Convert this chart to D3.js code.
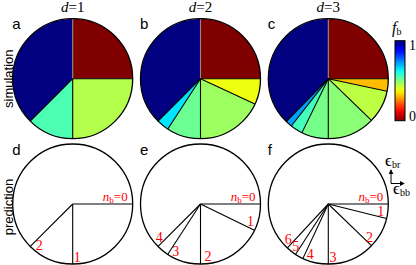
<!DOCTYPE html>
<html>
<head>
<meta charset="utf-8">
<script src="https://cdn.jsdelivr.net/npm/d3@7"></script>
<style>
  body { margin: 0; background: #fff; }
  text { fill: #000; }
  .serif { font-family: "Liberation Serif", "DejaVu Serif", serif; }
  .sans { font-family: "Liberation Sans", Arial, sans-serif; }
</style>
</head>
<body>
<div id="chart"></div>
<script>
// depths shown in the three columns
const depths = [1, 2, 3];

// simulation: wedge boundaries (degrees, clockwise from 12 o'clock) and f_b of each wedge
const simBounds1 = [0, 90, 180, 225, 360];
const simFb1 = [0, 0.45, 0.55, 1];
const simBounds2 = [0, 90, 115, 180, 213, 225, 360];
const simFb2 = [0, 0.39, 0.47, 0.52, 0.65, 1];
const simBounds3 = [0, 90, 102, 134, 180, 206, 218, 224.5, 360];
const simFb3 = [0, 0.31, 0.44, 0.49, 0.51, 0.56, 0.72, 1];

// prediction: boundary lines (degrees) for n_b = 0, 1, 2, ...
const predLines1 = [90, 180, 225];
const predLines2 = [90, 116, 180, 213, 225];
const predLines3 = [90, 104, 134, 180, 205, 213, 223];
// where each n_b label sits relative to its line (degrees)
const predShift1 = [0, -5, -6];
const predShift2 = [0, -7, -8, -5, 6];
const predShift3 = [0, -6, -5, -5, -5, 5, 6];

const colorbarTicks = [0, 1];

const sims = [
  {bounds: simBounds1, fb: simFb1},
  {bounds: simBounds2, fb: simFb2},
  {bounds: simBounds3, fb: simFb3}
];
const preds = [
  {lines: predLines1, shift: predShift1},
  {lines: predLines2, shift: predShift2},
  {lines: predLines3, shift: predShift3}
];

const W = 416, H = 265;
const R = 60;

const svg = d3.select("#chart").append("svg")
    .attr("width", W)
    .attr("height", H);

// column / row positions of the pie centres
const cx = d3.scaleLinear().domain([0, 2]).range([72.7, 328.3]);
const cy = d3.scaleOrdinal().domain(["sim", "pred"]).range([78.7, 204]);
const ang = d3.scaleLinear().domain([0, 360]).range([0, 2 * Math.PI]);

// reversed jet: f_b = 1 -> dark blue, f_b = 0 -> dark red
function jet(t) {
    const c = v => Math.max(0, Math.min(1, v)) * 255;
    return d3.rgb(c(1.5 - Math.abs(4 * t - 3)), c(1.5 - Math.abs(4 * t - 2)), c(1.5 - Math.abs(4 * t - 1))).formatHex();
}
const color = d3.scaleSequential(t => jet(1 - t)).domain([0, 1]);

const arc = d3.arc().innerRadius(0).outerRadius(R);
const polar = (deg, r) => [r * Math.sin(ang(deg)), -r * Math.cos(ang(deg))];

// ---- simulation row
sims.forEach((s, k) => {
    const g = svg.append("g").attr("transform", `translate(${cx(k)},${cy("sim")})`);
    const wedges = s.fb.map((f, i) => ({start: s.bounds[i], end: s.bounds[i + 1], fb: f}));

    g.selectAll("path.wedge")
        .data(wedges)
        .enter()
        .append("path")
        .attr("class", "wedge")
        .attr("d", d => arc({startAngle: ang(d.start), endAngle: ang(d.end)}))
        .attr("fill", d => color(d.fb));

    g.selectAll("line.edge")
        .data(s.bounds.slice(0, -1))
        .enter()
        .append("line")
        .attr("x1", 0).attr("y1", 0)
        .attr("x2", d => polar(d, R)[0])
        .attr("y2", d => polar(d, R)[1])
        .attr("stroke", d => d === 0 ? "#8a8a8a" : "#000")
        .attr("stroke-width", 1.1);

    g.append("circle").attr("r", R).attr("fill", "none").attr("stroke", "#000").attr("stroke-width", 1.3);
});

// ---- prediction row
preds.forEach((p, k) => {
    const g = svg.append("g").attr("transform", `translate(${cx(k)},${cy("pred")})`);

    g.append("circle").attr("r", R).attr("fill", "#fff").attr("stroke", "#000").attr("stroke-width", 1.3);

    g.selectAll("line.edge")
        .data(p.lines)
        .enter()
        .append("line")
        .attr("x1", 0).attr("y1", 0)
        .attr("x2", d => polar(d, R)[0])
        .attr("y2", d => polar(d, R)[1])
        .attr("stroke", "#000")
        .attr("stroke-width", 1.1);

    // n_b = 0 label on top of the horizontal line
    const t0 = g.append("text")
        .attr("class", "serif")
        .attr("x", R - 5).attr("y", -3)
        .attr("text-anchor", "end")
        .style("font-size", "13px")
        .style("fill", "#ff0000");
    t0.append("tspan").style("font-style", "italic").text("n");
    t0.append("tspan").attr("dy", 2).style("font-size", "9px").text("b");
    t0.append("tspan").attr("dy", -2).text("=0");

    g.selectAll("text.nb")
        .data(p.lines.map((d, i) => ({a: d + p.shift[i], n: i})).slice(1))
        .enter()
        .append("text")
        .attr("class", "nb serif")
        .attr("x", d => polar(d.a, 53)[0])
        .attr("y", d => polar(d.a, 53)[1])
        .attr("dy", "0.35em")
        .attr("text-anchor", "middle")
        .style("font-size", "14px")
        .style("fill", "#ff0000")
        .text(d => d.n);
});

// ---- titles
depths.forEach((d, k) => {
    const t = svg.append("text")
        .attr("class", "serif")
        .attr("x", cx(k)).attr("y", 12)
        .attr("text-anchor", "middle")
        .style("font-size", "15px");
    t.append("tspan").style("font-style", "italic").text("d");
    t.append("tspan").text("=" + d);
});

// ---- panel letters
const letters = ["a", "b", "c", "d", "e", "f"];
svg.selectAll("text.letter")
    .data(letters)
    .enter()
    .append("text")
    .attr("class", "letter sans")
    .attr("x", (d, i) => cx(i % 3) - 60.5)
    .attr("y", (d, i) => i < 3 ? 29 : 155)
    .style("font-size", "15px")
    .text(d => d);

// ---- row labels
[["simulation", cy("sim")], ["prediction", cy("pred") + 3]].forEach(([lab, y]) => {
    svg.append("text")
        .attr("class", "sans")
        .attr("transform", `translate(12.5,${y}) rotate(-90)`)
        .attr("text-anchor", "middle")
        .style("font-size", "13px")
        .text(lab);
});

// ---- colorbar
const cb = {x: 395, w: 10};
const cbY = d3.scaleLinear().domain([0, 1]).range([120.7, 40.7]);
const grad = svg.append("defs").append("linearGradient")
    .attr("id", "jetgrad")
    .attr("x1", 0).attr("y1", 1).attr("x2", 0).attr("y2", 0);
grad.selectAll("stop")
    .data(d3.range(0, 1.0001, 0.05))
    .enter()
    .append("stop")
    .attr("offset", d => d)
    .attr("stop-color", d => color(d));
svg.append("rect")
    .attr("x", cb.x).attr("y", cbY(1))
    .attr("width", cb.w).attr("height", cbY(0) - cbY(1))
    .attr("fill", "url(#jetgrad)")
    .attr("stroke", "#000").attr("stroke-width", 1);
svg.selectAll("text.cbtick")
    .data(colorbarTicks)
    .enter()
    .append("text")
    .attr("class", "cbtick serif")
    .attr("x", cb.x + cb.w + 4)
    .attr("y", d => d === 1 ? cbY(d) + 9.5 : cbY(d) + 0.5)
    .style("font-size", "14px")
    .text(d => d);
const fl = svg.append("text")
    .attr("class", "serif")
    .attr("x", 392).attr("y", 33)
    .style("font-size", "16px");
fl.append("tspan").style("font-style", "italic").text("f");
fl.append("tspan").attr("dy", 2).style("font-size", "10px").text("b");

// ---- lattice direction symbol
svg.append("defs").append("marker")
    .attr("id", "arr")
    .attr("viewBox", "0 0 6 6").attr("refX", 5).attr("refY", 3)
    .attr("markerWidth", 5).attr("markerHeight", 5)
    .attr("orient", "auto")
    .append("path").attr("d", "M0,0L6,3L0,6Z").attr("fill", "#000");
const ox = 391, oy = 183.5;
svg.append("line").attr("x1", ox).attr("y1", oy).attr("x2", ox).attr("y2", 170)
    .attr("stroke", "#000").attr("stroke-width", 1).attr("marker-end", "url(#arr)");
svg.append("line").attr("x1", ox).attr("y1", oy).attr("x2", 404).attr("y2", oy)
    .attr("stroke", "#000").attr("stroke-width", 1).attr("marker-end", "url(#arr)");
const e1 = svg.append("text").attr("class", "serif").attr("x", 385).attr("y", 166)
    .style("font-size", "17px");
e1.append("tspan").text("\u03f5");
e1.append("tspan").attr("dy", 2).style("font-size", "10px").text("br");
const e2 = svg.append("text").attr("class", "serif").attr("x", 393).attr("y", 194)
    .style("font-size", "17px");
e2.append("tspan").text("\u03f5");
e2.append("tspan").attr("dy", 2).style("font-size", "10px").text("bb");
</script>
</body>
</html>
